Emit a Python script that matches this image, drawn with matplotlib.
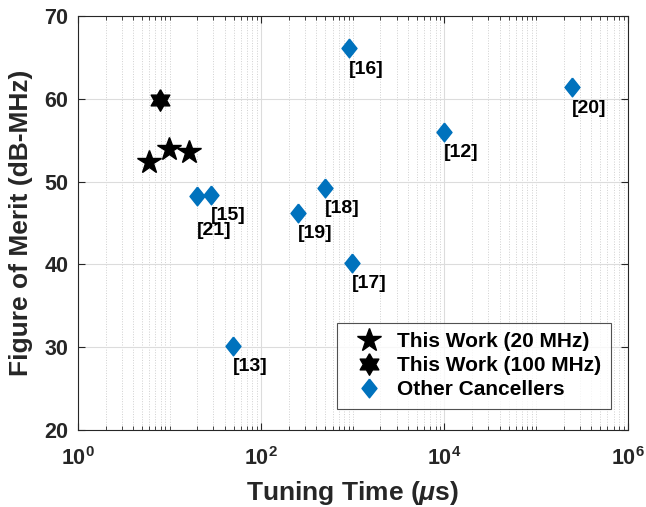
import matplotlib
matplotlib.use("Agg")
import matplotlib.pyplot as plt
import matplotlib.ticker as mticker
import numpy as np

plt.rcParams['font.family'] = ['Liberation Sans', 'DejaVu Sans']
plt.rcParams['font.weight'] = 'bold'
plt.rcParams['mathtext.fontset'] = 'custom'
plt.rcParams['mathtext.it'] = 'Liberation Sans:italic:bold'
plt.rcParams['mathtext.rm'] = 'Liberation Sans:bold'

# this work, 20 MHz
t20 = [5.9, 9.9, 16.4]
fom20 = [52.4, 53.9, 53.6]
# this work, 100 MHz
t100 = [7.9]
fom100 = [59.9]
# other cancellers
refs = ["[16]", "[20]", "[12]", "[18]", "[15]", "[21]", "[19]", "[17]", "[13]"]
t_other = [910, 2.46e5, 9900, 497, 28, 20, 249, 980, 49]
fom_other = [66.1, 61.4, 56.05, 49.3, 48.4, 48.3, 46.2, 40.2, 30.2]
label_dy = [2.5, 2.5, 2.5, 2.5, 2.5, 4.2, 2.5, 2.5, 2.5]

txt = "#262626"
blue = "#0072BD"

# custom markers, MATLAB style
diamond = [(0, 1), (0.8, 0), (0, -1), (-0.8, 0), (0, 1)]
ang = np.linspace(np.pi / 2, np.pi / 2 + 2 * np.pi, 13)
rad = np.tile([1.0, 0.577], 7)[:13]
hexagram = list(zip(rad * np.cos(ang), rad * np.sin(ang)))

fig = plt.figure(figsize=(6.46, 5.07), dpi=100)
ax = fig.add_axes([0.1207, 0.152, 0.851, 0.816])

ax.plot(t20, fom20, linestyle='none', marker='*', ms=17.5, color='k',
        label='This Work (20 MHz)')
ax.plot(t100, fom100, linestyle='none', marker=hexagram, ms=15.5, color='k',
        label='This Work (100 MHz)')
ax.plot(t_other, fom_other, linestyle='none', marker=diamond, ms=13.5,
        color=blue, label='Other Cancellers')

for r, x, y, dy in zip(refs, t_other, fom_other, label_dy):
    ax.text(x, y - dy, r, fontsize=14, fontweight='bold', color='k',
            ha='left', va='center')

ax.set_xscale('log')
ax.set_xlim(1, 1e6)
ax.set_ylim(20, 70)
ax.xaxis.set_major_locator(mticker.FixedLocator([1, 1e2, 1e4, 1e6]))
ax.xaxis.set_major_formatter(mticker.LogFormatterMathtext())
minors = [m * 10 ** d for d in range(6) for m in range(1, 10)
          if not (m == 1 and d % 2 == 0)]
ax.xaxis.set_minor_locator(mticker.FixedLocator(minors))
ax.xaxis.set_minor_formatter(mticker.NullFormatter())
ax.set_yticks([20, 30, 40, 50, 60, 70])

ax.grid(True, which='major', color='#dcdcdc', lw=0.8)
ax.grid(True, which='minor', axis='x', color='#d0d0d0', ls=':', lw=0.7)
ax.set_axisbelow(True)

ax.tick_params(which='both', direction='in', top=True, right=True,
               colors=txt, labelsize=15.5)
ax.tick_params(axis='y', pad=7)
ax.tick_params(axis='x', pad=12)
ax.tick_params(which='major', length=5)
ax.tick_params(which='minor', length=3)
for lab in ax.get_xticklabels() + ax.get_yticklabels():
    lab.set_fontweight('bold')
for s in ax.spines.values():
    s.set_color(txt)
    s.set_linewidth(0.8)

ax.set_xlabel(r'Tuning Time ($\mu$s)', fontsize=19, fontweight='bold',
              color=txt, labelpad=7)
ax.set_ylabel('Figure of Merit (dB-MHz)', fontsize=19, fontweight='bold',
              color=txt, labelpad=8)

leg = ax.legend(loc='lower right', bbox_to_anchor=(0.969, 0.051),
                borderaxespad=0, fontsize=15, frameon=True, fancybox=False,
                edgecolor=txt, handletextpad=0.25, borderpad=0.45,
                labelspacing=0.25, handlelength=2.2)
leg.get_frame().set_linewidth(0.8)
for t in leg.get_texts():
    t.set_fontweight('bold')

fig.savefig('out.png', dpi=100)
